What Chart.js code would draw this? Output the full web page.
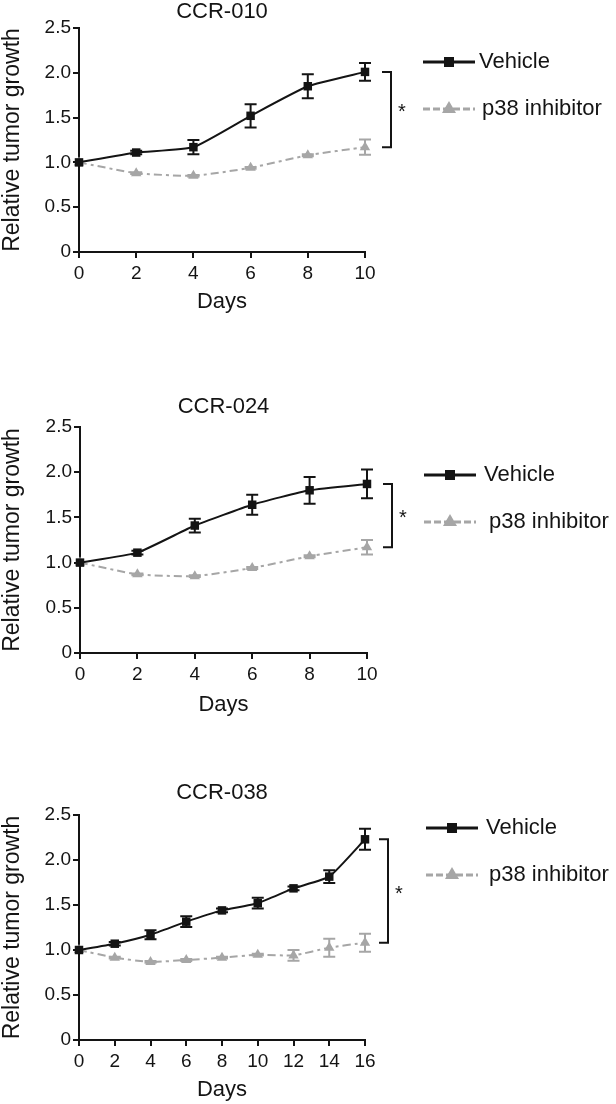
<!DOCTYPE html>
<html><head><meta charset="utf-8">
<script src="https://cdn.jsdelivr.net/npm/chart.js@4.4.1/dist/chart.umd.min.js"></script>
<style>
html,body{margin:0;padding:0;background:#fff;}
body{width:616px;height:1104px;position:relative;overflow:hidden;}
canvas{position:absolute;left:0;}
</style></head><body>
<canvas id="c1" width="616" height="320" style="top:0px"></canvas>
<canvas id="c2" width="616" height="340" style="top:380px"></canvas>
<canvas id="c3" width="616" height="344" style="top:760px"></canvas>
<script>
// ---------- data ----------
const seriesNames = ['Vehicle', 'p38 inhibitor'];
const panelTitles = ['CCR-010', 'CCR-024', 'CCR-038'];
const xTitle = 'Days';
const yTitle = 'Relative tumor growth';
const yTickValues = [0, 0.5, 1.0, 1.5, 2.0, 2.5];
const yTickLabels = ['0', '0.5', '1.0', '1.5', '2.0', '2.5'];

const days10 = [0, 2, 4, 6, 8, 10];
const days16 = [0, 2, 4, 6, 8, 10, 12, 14, 16];

const ccr010Vehicle    = [1.00, 1.11, 1.17, 1.52, 1.85, 2.01];
const ccr010VehicleErr = [0.00, 0.02, 0.08, 0.13, 0.135, 0.10];
const ccr010Inhib      = [1.00, 0.88, 0.85, 0.94, 1.08, 1.17];
const ccr010InhibErr   = [0.00, 0.01, 0.01, 0.01, 0.01, 0.085];

const ccr024Vehicle    = [1.00, 1.11, 1.41, 1.64, 1.80, 1.87];
const ccr024VehicleErr = [0.00, 0.02, 0.076, 0.11, 0.148, 0.159];
const ccr024Inhib      = [1.00, 0.87, 0.85, 0.94, 1.07, 1.17];
const ccr024InhibErr   = [0.00, 0.01, 0.01, 0.01, 0.01, 0.08];

const ccr038Vehicle    = [1.00, 1.07, 1.17, 1.315, 1.44, 1.52, 1.685, 1.815, 2.23];
const ccr038VehicleErr = [0.00, 0.02, 0.05, 0.06, 0.02, 0.06, 0.02, 0.07, 0.117];
const ccr038Inhib      = [1.00, 0.915, 0.867, 0.889, 0.915, 0.948, 0.94, 1.026, 1.081];
const ccr038InhibErr   = [0.00, 0.01, 0.01, 0.01, 0.01, 0.01, 0.06, 0.10, 0.10];

// ---------- style ----------
const FONT = "'Liberation Sans', Arial, Helvetica, sans-serif";
const INK = '#141414';
const GREY = '#a6a6a6';

function pts(days, vals) { return vals.map((v, i) => ({ x: days[i], y: v })); }

function panel(id, title, days, veh, vehErr, inh, inhErr, L) {
  const canvas = document.getElementById(id);
  const H = canvas.height;
  const xMax = days[days.length - 1];
  const titlePadTop = L.titleY - 11;
  const errPlugin = {
    id: 'errorBars',
    beforeDatasetsDraw(chart) {
      const ctx = chart.ctx, ys = chart.scales.y;
      [[veh, vehErr], [inh, inhErr]].forEach(([vals, errs], di) => {
        const ds = chart.data.datasets[di];
        const meta = chart.getDatasetMeta(di);
        ctx.save();
        ctx.strokeStyle = ds.borderColor; ctx.lineWidth = 2; ctx.setLineDash([]);
        meta.data.forEach((pt, i) => {
          const e = errs[i]; if (!e) return;
          const yt = ys.getPixelForValue(vals[i] + e), yb = ys.getPixelForValue(vals[i] - e);
          const x = pt.x, w = 6;
          ctx.beginPath();
          ctx.moveTo(x, yt); ctx.lineTo(x, yb);
          ctx.moveTo(x - w, yt); ctx.lineTo(x + w, yt);
          ctx.moveTo(x - w, yb); ctx.lineTo(x + w, yb);
          ctx.stroke();
        });
        ctx.restore();
      });
    }
  };
  const annPlugin = {
    id: 'annot',
    afterDraw(chart) {
      const ctx = chart.ctx, ys = chart.scales.y, area = chart.chartArea;
      const bx = area.right + L.bracketDx;
      const yTop = ys.getPixelForValue(veh[veh.length - 1]);
      const yBot = ys.getPixelForValue(inh[inh.length - 1]);
      ctx.save();
      ctx.strokeStyle = INK; ctx.lineWidth = 2;
      ctx.beginPath();
      ctx.moveTo(bx - 9, yTop); ctx.lineTo(bx, yTop); ctx.lineTo(bx, yBot); ctx.lineTo(bx - 9, yBot);
      ctx.stroke();
      ctx.fillStyle = INK; ctx.font = '20px ' + FONT;
      ctx.textAlign = 'left'; ctx.textBaseline = 'middle';
      ctx.fillText('*', bx + 7, (yTop + yBot) / 2 + 3);
      const lx1 = L.legX, lx2 = L.legX + 52, mx = (lx1 + lx2) / 2;
      const y1 = area.top + L.leg1, y2 = area.top + L.leg2;
      ctx.lineWidth = 3; ctx.strokeStyle = INK;
      ctx.beginPath(); ctx.moveTo(lx1, y1); ctx.lineTo(lx2, y1); ctx.stroke();
      ctx.fillRect(mx - 5, y1 - 5, 10, 10);
      ctx.strokeStyle = GREY; ctx.setLineDash([7, 3]);
      ctx.beginPath(); ctx.moveTo(lx1, y2); ctx.lineTo(lx2, y2); ctx.stroke();
      ctx.setLineDash([]);
      ctx.fillStyle = GREY;
      ctx.beginPath(); ctx.moveTo(mx, y2 - 8); ctx.lineTo(mx + 7, y2 + 4); ctx.lineTo(mx - 7, y2 + 4); ctx.closePath(); ctx.fill();
      ctx.fillStyle = INK; ctx.font = '22px ' + FONT;
      ctx.fillText(seriesNames[0], lx2 + L.tx1, y1);
      ctx.fillText(seriesNames[1], lx2 + L.tx2, y2);
      ctx.restore();
    }
  };
  return new Chart(canvas, {
    type: 'line',
    data: {
      datasets: [
        { label: seriesNames[0], data: pts(days, veh), borderColor: INK, backgroundColor: INK,
          borderWidth: 2, pointStyle: 'rect', pointRadius: 6, pointBorderWidth: 0, tension: 0.15, clip: false },
        { label: seriesNames[1], data: pts(days, inh), borderColor: GREY, backgroundColor: GREY,
          borderWidth: 2, borderDash: [8, 4, 3, 4], pointStyle: 'triangle', pointRadius: 6, pointBorderWidth: 0, tension: 0.15, clip: false }
      ]
    },
    options: {
      responsive: false, animation: false, devicePixelRatio: 1,
      layout: { padding: { left: 0, right: 616 - L.right, top: 0, bottom: 0 } },
      plugins: {
        legend: { display: false }, tooltip: { enabled: false },
        title: { display: true, text: title, fullSize: false, color: INK,
          font: { family: FONT, size: 22, weight: 'normal', lineHeight: 1 },
          padding: { top: titlePadTop, bottom: L.top - titlePadTop - 22 } }
      },
      scales: {
        x: { type: 'linear', min: 0, max: xMax,
          ticks: { stepSize: 2, font: { family: FONT, size: 19 }, color: INK, padding: 4, maxRotation: 0, autoSkip: false },
          grid: { display: true, drawOnChartArea: false, drawTicks: true, tickLength: 6, color: INK, lineWidth: 2 },
          border: { display: true, color: INK, width: 2 },
          title: { display: true, text: xTitle, color: INK, font: { family: FONT, size: 22, lineHeight: 1 }, padding: { top: 0, bottom: L.daysOff - 11 } },
          afterFit: s => { s.height = H - L.bottom; } },
        y: { type: 'linear', min: 0, max: 2.5,
          afterBuildTicks: s => { s.ticks = yTickValues.map(v => ({ value: v })); },
          ticks: { callback: (v, i) => yTickLabels[i], font: { family: FONT, size: 19 }, color: INK, padding: 2 },
          grid: { display: true, drawOnChartArea: false, drawTicks: true, tickLength: 6, color: INK, lineWidth: 2 },
          border: { display: true, color: INK, width: 2 },
          title: { display: true, text: yTitle, color: INK, font: { family: FONT, size: 23, lineHeight: 1 }, padding: { top: 1, bottom: 0 } },
          afterFit: s => { s.width = L.left; } }
      }
    },
    plugins: [errPlugin, annPlugin]
  });
}

panel('c1', panelTitles[0], days10, ccr010Vehicle, ccr010VehicleErr, ccr010Inhib, ccr010InhibErr,
  { left: 79, right: 365, top: 28, bottom: 252, titleY: 12, daysOff: 18, bracketDx: 26, legX: 423, leg1: 34, leg2: 81, tx1: 4, tx2: 7 });
panel('c2', panelTitles[1], days10, ccr024Vehicle, ccr024VehicleErr, ccr024Inhib, ccr024InhibErr,
  { left: 80, right: 367, top: 47, bottom: 273, titleY: 27, daysOff: 15, bracketDx: 25, legX: 424, leg1: 48, leg2: 95, tx1: 8, tx2: 13 });
panel('c3', panelTitles[2], days16, ccr038Vehicle, ccr038VehicleErr, ccr038Inhib, ccr038InhibErr,
  { left: 79, right: 365, top: 55, bottom: 280, titleY: 33, daysOff: 14, bracketDx: 23, legX: 426, leg1: 13, leg2: 60, tx1: 8, tx2: 11 });
</script>
</body></html>
